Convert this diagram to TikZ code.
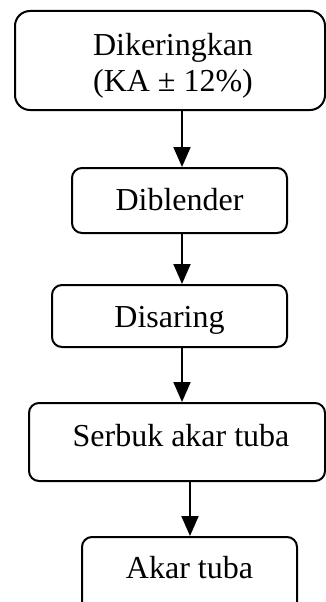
\documentclass[tikz,border=0pt]{standalone}
\usepackage{fontspec}
\setmainfont{Liberation Serif}
\usetikzlibrary{arrows.meta}
\newcommand{\tx}[3]{\raisebox{#2}[\height][\depth]{\hspace*{#1}#3\hspace*{-#1}}}
\tikzset{
  stepbox/.style={draw, line width=2pt, rounded corners=10pt, inner sep=0pt,
    font=\fontsize{32}{35.7}\selectfont, text height=22pt, text depth=7pt},
  bigbox/.style={draw, line width=2pt, rounded corners=15pt, inner sep=0pt,
    font=\fontsize{32}{35.7}\selectfont},
  arr/.style={line width=2pt, -{Triangle[length=20pt,width=17pt]}}
}
\begin{document}
\begin{tikzpicture}[x=1pt,y=-1pt]
\useasboundingbox (0,0) rectangle (326,602);
\clip (0,0) rectangle (326,602);
\coordinate (ax) at (182,0);
\coordinate (bx) at (190,0);
\node[bigbox, minimum width=310pt, minimum height=99pt] (b1) at (170,60.5)
  {\tx{3pt}{-6.2pt}{\begin{tabular}{@{}c@{}}Dikeringkan\\(KA ± 12\%)\end{tabular}}};
\node[stepbox, minimum width=215pt, minimum height=65pt] (b2) at (179.5,200.5)
  {\tx{0pt}{-2pt}{Diblender}};
\node[stepbox, minimum width=235pt, minimum height=62pt] (b3) at (169.5,316)
  {\tx{0pt}{-3.5pt}{Disaring}};
\node[stepbox, minimum width=296pt, minimum height=78pt] (b4) at (177,442)
  {\tx{4pt}{2.8pt}{Serbuk akar tuba}};
\node[stepbox, minimum width=215pt, minimum height=80pt] (b5) at (189.5,577)
  {\tx{0pt}{6.5pt}{Akar tuba}};
\draw[arr] (b1.south -| ax) -- (b2.north -| ax);
\draw[arr] (b2.south -| ax) -- (b3.north -| ax);
\draw[arr] (b3.south -| ax) -- (b4.north -| ax);
\draw[arr] (b4.south -| bx) -- (b5.north -| bx);
\end{tikzpicture}
\end{document}
